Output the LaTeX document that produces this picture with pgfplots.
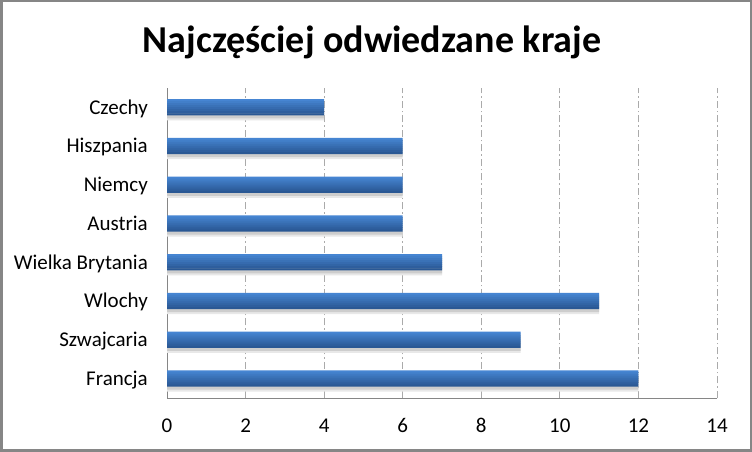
\documentclass[border=0pt]{standalone}
\usepackage{fontspec}
\setmainfont{Carlito}
\usepackage{pgfplots}
\usepackage{pgfplotstable}
\pgfplotsset{compat=1.18}
\definecolor{framegray}{RGB}{134,134,134}
\definecolor{gridgray}{RGB}{170,170,170}
\definecolor{axisgray}{RGB}{134,134,134}
\definecolor{bartop}{RGB}{70,133,210}
\definecolor{barbot}{RGB}{42,88,148}
\definecolor{shadowgray}{RGB}{205,205,205}
\pgfplotstableread{
val pos
12 0
9 1
11 2
7 3
6 4
6 5
6 6
4 7
}\datatable
\begin{document}
\begin{tikzpicture}
\path[use as bounding box] (0bp,0bp) rectangle (752bp,452bp);
\fill[white] (0bp,0bp) rectangle (752bp,452bp);
\draw[framegray, line width=2.5bp] (1.25bp,1.25bp) rectangle (750.75bp,450.75bp);
\node[anchor=base, inner sep=0pt, font=\fontsize{38bp}{46bp}\selectfont\bfseries] at (372bp,399bp) {Najczęściej odwiedzane kraje};
\begin{axis}[
  at={(167bp,54bp)}, anchor=south west,
  width=550bp, height=310bp, scale only axis,
  xmin=0, xmax=14, ymin=-0.5, ymax=7.5,
  axis x line*=bottom, axis y line*=left,
  axis line style={axisgray, line width=1bp},
  xtick={0,2,...,14},
  ytick={0,...,7},
  yticklabels={Francja,Szwajcaria,Wlochy,Wielka Brytania,Austria,Niemcy,Hiszpania,Czechy},
  major tick length=0pt, tick align=inside,
  xmajorgrids,
  grid style={gridgray, line width=0.8bp, dash pattern=on 7bp off 3bp on 1.5bp off 3bp},
  /pgf/number format/assume math mode=true,
  ticklabel style={font=\fontsize{21bp}{25bp}\selectfont, inner sep=0pt},
  xticklabel style={anchor=base, yshift=-34bp},
  yticklabel style={anchor=base east, xshift=-19bp, yshift=-6.8bp},
  clip=false,
  every axis plot/.append style={xbar, draw=none, forget plot},
]
% soft shadow
\addplot[bar width=18bp, bar shift=-4bp, fill=shadowgray!45] table[x=val,y=pos] {\datatable};
\addplot[bar width=16bp, bar shift=-3bp, fill=shadowgray] table[x=val,y=pos] {\datatable};
% bar, drawn as stripes from top (light) to bottom (dark)
\addplot[bar width=2.3bp, bar shift=7bp,  fill=bartop] table[x=val,y=pos] {\datatable};
\addplot[bar width=2.3bp, bar shift=5bp,  fill=bartop!86!barbot] table[x=val,y=pos] {\datatable};
\addplot[bar width=2.3bp, bar shift=3bp,  fill=bartop!71!barbot] table[x=val,y=pos] {\datatable};
\addplot[bar width=2.3bp, bar shift=1bp,  fill=bartop!57!barbot] table[x=val,y=pos] {\datatable};
\addplot[bar width=2.3bp, bar shift=-1bp, fill=bartop!43!barbot] table[x=val,y=pos] {\datatable};
\addplot[bar width=2.3bp, bar shift=-3bp, fill=bartop!29!barbot] table[x=val,y=pos] {\datatable};
\addplot[bar width=2.3bp, bar shift=-5bp, fill=bartop!14!barbot] table[x=val,y=pos] {\datatable};
\addplot[bar width=2.0bp, bar shift=-7bp, fill=barbot] table[x=val,y=pos] {\datatable};
\end{axis}
\end{tikzpicture}
\end{document}
